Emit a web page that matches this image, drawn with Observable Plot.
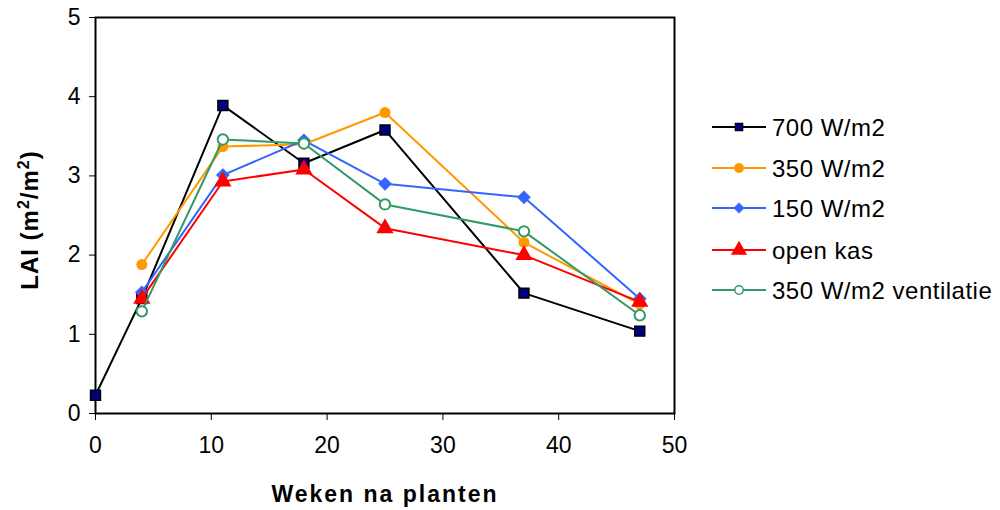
<!DOCTYPE html>
<html>
<head>
<meta charset="utf-8">
<script src="https://cdn.jsdelivr.net/npm/d3@7"></script>
<script src="https://cdn.jsdelivr.net/npm/@observablehq/plot@0.6"></script>
<style>
  html, body { margin: 0; padding: 0; background: #fff; }
  #chart svg { font-family: "Liberation Sans", Arial, sans-serif; }
</style>
</head>
<body>
<div id="chart"></div>
<script>
const weeks = [0, 4, 11, 18, 25, 37, 47];
const seriesNames = ["700 W/m2", "350 W/m2", "150 W/m2", "open kas", "350 W/m2 ventilatie"];
const s700  = [0.23, 1.45, 3.89, 3.16, 3.58, 1.52, 1.04];
const s350  = [null, 1.88, 3.37, 3.40, 3.80, 2.16, 1.38];
const s150  = [null, 1.53, 3.01, 3.45, 2.90, 2.73, 1.45];
const sOpen = [null, 1.45, 2.93, 3.08, 2.34, 2.00, 1.41];
const sVent = [null, 1.29, 3.46, 3.41, 2.64, 2.30, 1.24];
const xTicks = [0, 10, 20, 30, 40, 50];
const yTicks = [0, 1, 2, 3, 4, 5];
const xLabel = "Weken na planten";
const yLabelParts = [["LAI (m", false], ["2", true], ["/m", false], ["2", true], [")", false]];

const lineColors = ["#000000", "#FF9900", "#3366FF", "#FF0000", "#339966"];
const markColors = ["#000080", "#FF9900", "#3366FF", "#FF0000", "#FFFFFF"];
const markStroke = ["#000000", "none", "none", "none", "#339966"];
const symbols = ["square", "circle", "diamond2", "triangle", "circle"];
const sizes = [5.6, 5.5, 6.2, 6.4, 5.2];

const allValues = [s700, s350, s150, sOpen, sVent];
const rows = [];
allValues.forEach((vals, si) => {
  vals.forEach((v, i) => {
    if (v != null) rows.push({series: seriesNames[si], si, week: weeks[i], lai: v});
  });
});

const marks = [Plot.frame({stroke: "#000", strokeWidth: 2})];
seriesNames.forEach((name, si) => {
  const d = rows.filter(r => r.si === si);
  marks.push(Plot.line(d, {x: "week", y: "lai", stroke: lineColors[si], strokeWidth: 2}));
  marks.push(Plot.dot(d, {
    x: "week", y: "lai", symbol: () => symbols[si], r: sizes[si],
    fill: markColors[si], stroke: markStroke[si],
    strokeWidth: si === 4 ? 2 : 1.5
  }));
});

const chart = Plot.plot({
  width: 1000,
  height: 510,
  marginLeft: 95,
  marginRight: 326,
  marginTop: 17,
  marginBottom: 97,
  style: {fontFamily: "'Liberation Sans', Arial, sans-serif", fontSize: "23px", color: "#000", background: "#fff"},
  x: {domain: [0, 50], ticks: xTicks, tickSize: 7, tickPadding: 16, tickFormat: "d", label: null},
  y: {domain: [0, 5], ticks: yTicks, tickSize: 6, tickPadding: 9, tickFormat: "d", label: null},
  symbol: {type: "identity"},
  marks
});
document.getElementById("chart").appendChild(chart);

const svg = d3.select(chart);
svg.selectAll('g[aria-label="x-axis tick label"], g[aria-label="y-axis tick label"]')
  .attr("font-size", 23);

// axis titles
svg.append("text")
  .attr("x", 385).attr("y", 502)
  .attr("text-anchor", "middle")
  .attr("font-weight", "bold").attr("font-size", 23)
  .attr("fill", "#000")
  .style("letter-spacing", "2px")
  .text(xLabel);
const yl = svg.append("text")
  .attr("transform", "translate(38,220) rotate(-90)")
  .attr("text-anchor", "middle")
  .attr("font-weight", "bold").attr("font-size", 24)
  .attr("fill", "#000")
  .style("letter-spacing", "1px");
yLabelParts.forEach(([t, sup]) => {
  yl.append("tspan")
    .attr("font-size", sup ? 16 : 24)
    .attr("baseline-shift", sup ? "55%" : null)
    .text(t);
});

// legend
const legY = [127, 168, 208, 250, 290];
const leg = svg.append("g").attr("text-anchor", "start");
const symMap = {square: d3.symbolSquare, circle: d3.symbolCircle, diamond2: d3.symbolDiamond2, triangle: d3.symbolTriangle};
seriesNames.forEach((name, si) => {
  const y = legY[si];
  leg.append("line").attr("x1", 712).attr("x2", 766).attr("y1", y).attr("y2", y)
    .attr("stroke", lineColors[si]).attr("stroke-width", 2);
  const r = [4.2, 5, 5, 6, 4.2][si];
  leg.append("path")
    .attr("d", d3.symbol(symMap[symbols[si]], Math.PI * r * r)())
    .attr("transform", `translate(739,${y})`)
    .attr("fill", markColors[si])
    .attr("stroke", markStroke[si])
    .attr("stroke-width", si === 4 ? 1.5 : 1.2);
  leg.append("text").attr("x", 772).attr("y", y).attr("dy", "0.36em")
    .attr("text-anchor", "start")
    .attr("font-size", 24).attr("fill", "#000")
    .style("letter-spacing", "0.5px")
    .text(name);
});
</script>
</body>
</html>
